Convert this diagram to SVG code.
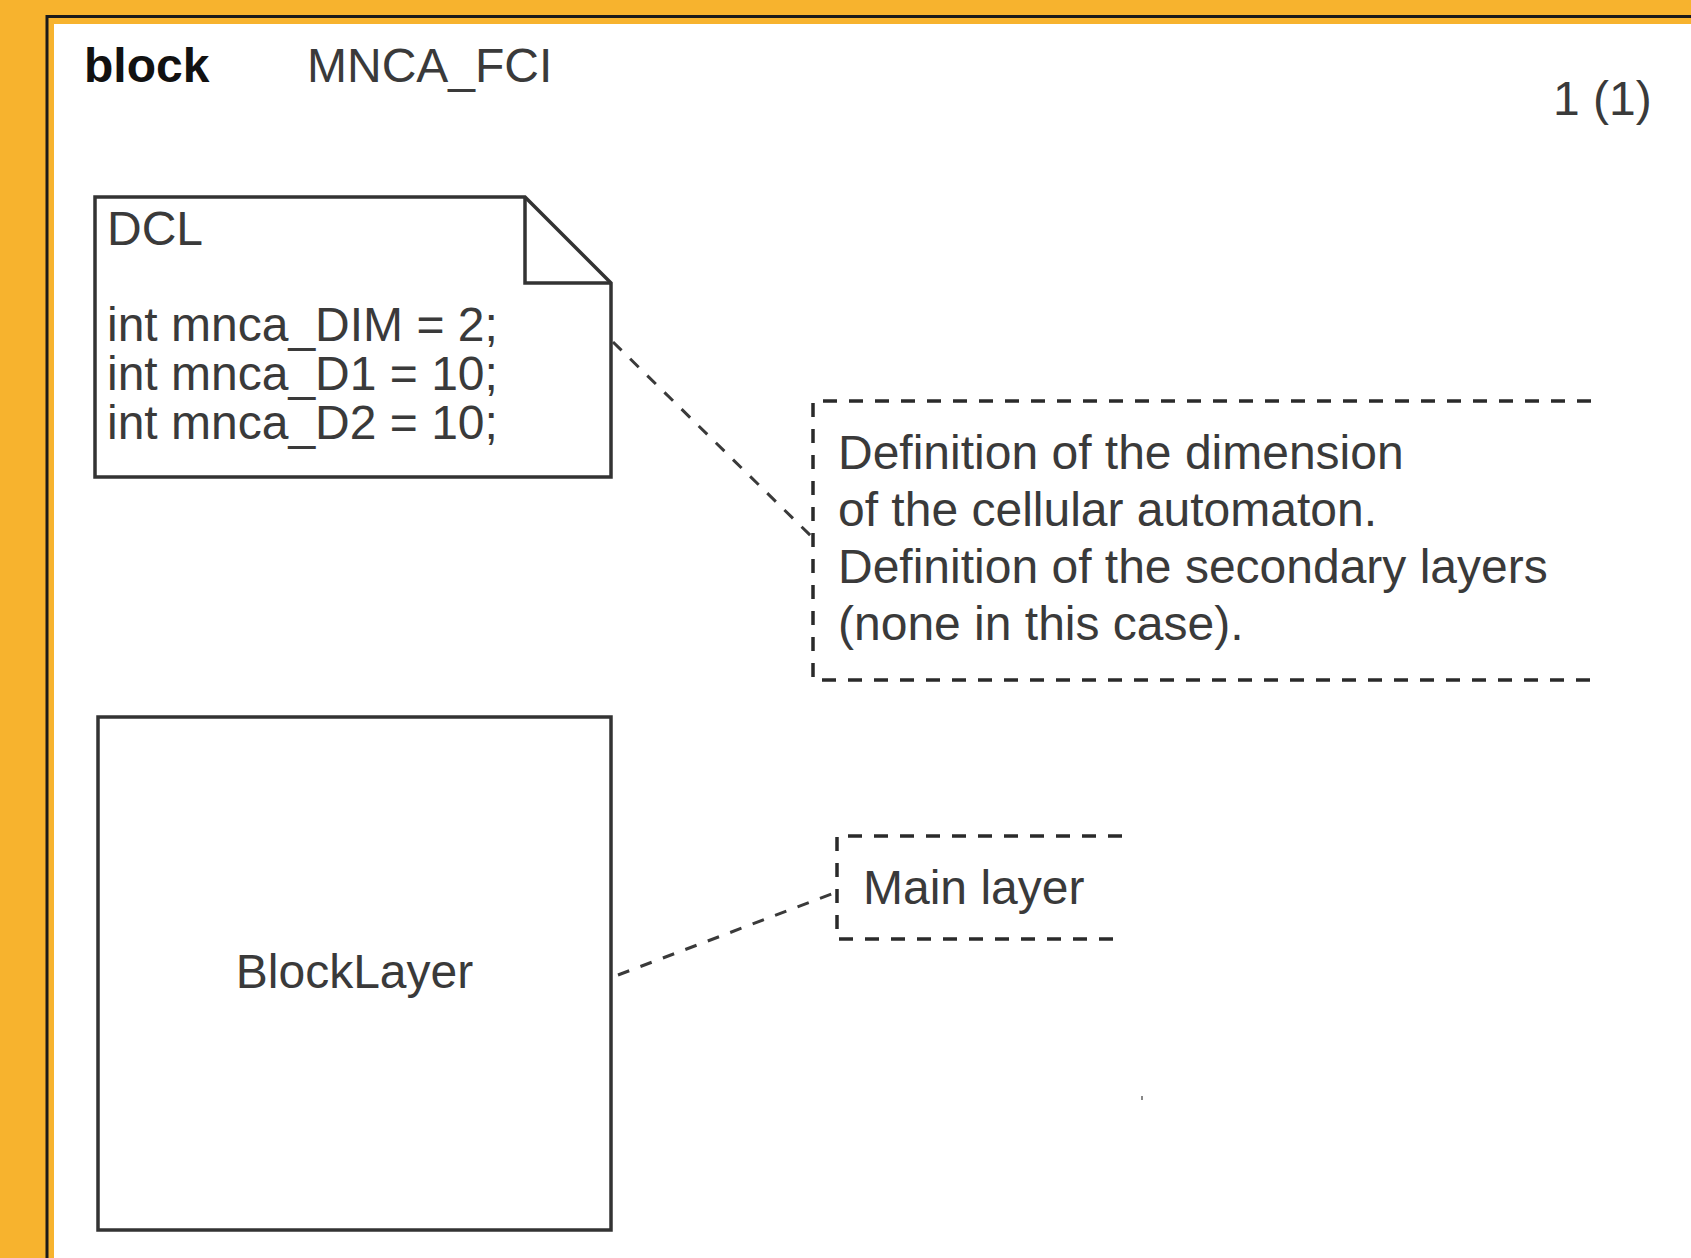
<svg xmlns="http://www.w3.org/2000/svg" width="1691" height="1258" viewBox="0 0 1691 1258">
  <style>
    .t { font-family: "Liberation Sans", Arial, sans-serif; font-size: 48px; fill: #3a3a3a; }
    .b { font-weight: bold; fill: #111; }
    .solid { fill: #fff; stroke: #333; stroke-width: 3.5; }
    .dash { fill: none; stroke: #2a2a2a; stroke-width: 3.5; stroke-dasharray: 14 12; }
    .conn { fill: none; stroke: #3a3a3a; stroke-width: 3; stroke-dasharray: 12 12; }
  </style>
  <g id="frame">
    <rect x="0" y="0" width="1691" height="1258" fill="#F7B32E"/>
    <path d="M47,1258 V16.5 H1691" fill="none" stroke="#1a1a1a" stroke-width="3"/>
    <rect x="54" y="24" width="1637" height="1234" fill="#fff"/>
  </g>
  <g id="header">
    <text class="t b" x="84" y="82">block</text>
    <text class="t" x="307" y="82">MNCA_FCI</text>
    <text class="t" x="1553" y="115">1 (1)</text>
  </g>
  <g id="dcl">
    <path class="solid" d="M95,197 H525 L611,283 V477 H95 Z"/>
    <path d="M525,197 V283 H611" fill="none" stroke="#333" stroke-width="3.5"/>
    <text class="t" x="107" y="245">DCL</text>
    <text class="t" x="107" y="341">int mnca_DIM = 2;</text>
    <text class="t" x="107" y="390">int mnca_D1 = 10;</text>
    <text class="t" x="107" y="439">int mnca_D2 = 10;</text>
  </g>
  <g id="comment-dcl">
    <path class="dash" d="M1591,401 H813 V680 H1591"/>
    <text class="t" x="838" y="469">Definition of the dimension</text>
    <text class="t" x="838" y="526">of the cellular automaton.</text>
    <text class="t" x="838" y="583">Definition of the secondary layers</text>
    <text class="t" x="838" y="640">(none in this case).</text>
  </g>
  <g id="blocklayer">
    <rect class="solid" x="98" y="717" width="513" height="513"/>
    <text class="t" x="354.5" y="988" text-anchor="middle">BlockLayer</text>
  </g>
  <g id="comment-main">
    <path class="dash" d="M1122,836 H837 V939 H1122"/>
    <text class="t" x="863" y="904">Main layer</text>
  </g>
  <g id="connectors">
    <line class="conn" x1="613" y1="342" x2="813" y2="538"/>
    <line class="conn" x1="618" y1="975" x2="837" y2="892"/>
  </g>
  <rect x="1141" y="1096" width="2" height="4" fill="#888"/>
</svg>
